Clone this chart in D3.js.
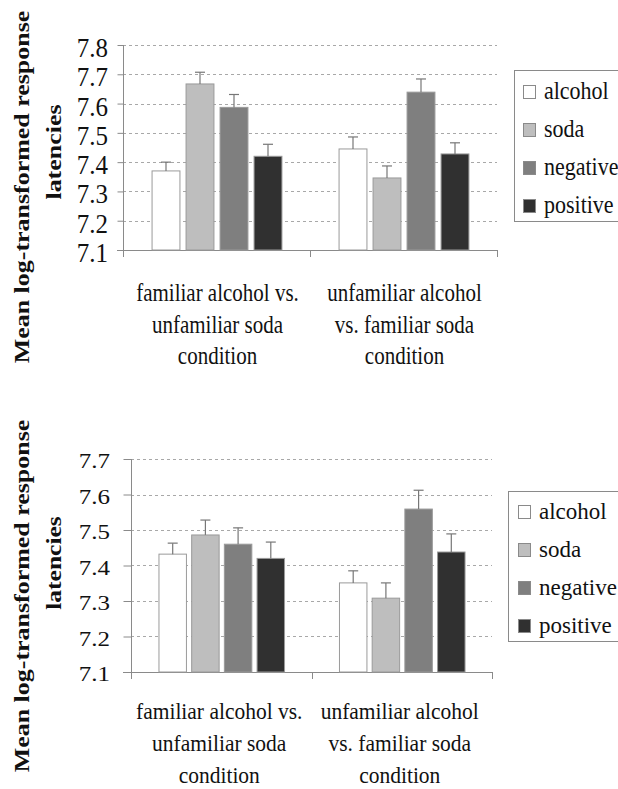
<!DOCTYPE html>
<html><head><meta charset="utf-8">
<script src="https://cdn.jsdelivr.net/npm/d3@7/dist/d3.min.js"></script>
<style>body{margin:0;background:#fff}svg{display:block}</style>
</head><body>
<svg id="c" width="618" height="789"></svg>
<script>
// ---- data ----
const categories = [
  ["familiar alcohol vs.", "unfamiliar soda", "condition"],
  ["unfamiliar alcohol", "vs. familiar soda", "condition"]
];
const seriesNames = ["alcohol", "soda", "negative", "positive"];
const seriesColors = ["#ffffff", "#bebebe", "#7f7f7f", "#303030"];

// top panel: means per series [cond1, cond2], and standard-error bar heights
const topAlcohol = [7.370, 7.445];
const topSoda = [7.667, 7.346];
const topNegative = [7.587, 7.639];
const topPositive = [7.420, 7.428];
const topErrAlcohol = [0.030, 0.041];
const topErrSoda = [0.040, 0.041];
const topErrNegative = [0.044, 0.045];
const topErrPositive = [0.041, 0.038];
const topTicks = [7.1, 7.2, 7.3, 7.4, 7.5, 7.6, 7.7, 7.8];

// bottom panel
const botAlcohol = [7.432, 7.351];
const botSoda = [7.486, 7.308];
const botNegative = [7.460, 7.559];
const botPositive = [7.420, 7.438];
const botErrAlcohol = [0.031, 0.034];
const botErrSoda = [0.042, 0.043];
const botErrNegative = [0.046, 0.053];
const botErrPositive = [0.046, 0.051];
const botTicks = [7.1, 7.2, 7.3, 7.4, 7.5, 7.6, 7.7];

const yTitle = ["Mean log-transformed response", "latencies"];

// ---- drawing ----
const svg = d3.select("#c");
const SERIF = "'Liberation Serif','Times New Roman',serif";

function txt(g, x, y, s, o) {
  const t = g.append("text")
    .attr("transform", `translate(${x},${y})${o.rot ? " rotate(" + o.rot + ")" : ""} scale(${o.sx || 1},${o.sy || 1})`)
    .attr("text-anchor", o.anchor || "start")
    .attr("font-family", SERIF)
    .attr("font-size", o.size)
    .attr("font-weight", o.weight || "normal")
    .attr("fill", "#111")
    .text(s);
  return t;
}

function drawPanel(cfg) {
  const g = svg.append("g");
  const means = cfg.means, errs = cfg.errs;
  const rows = [];
  categories.forEach((c, ci) => seriesNames.forEach((s, si) => {
    rows.push({ci, si, v: means[si][ci], e: errs[si][ci]});
  }));

  const y = d3.scaleLinear().domain([cfg.ticks[0], cfg.ticks[cfg.ticks.length - 1]]).range([cfg.y0, cfg.y1]);
  const x0 = d3.scaleBand().domain(d3.range(categories.length)).range([cfg.x0, cfg.x1]).paddingInner(0).paddingOuter(0);
  const x1 = d3.scaleBand().domain(d3.range(seriesNames.length)).range([0, x0.bandwidth()])
    .paddingInner(cfg.pin).paddingOuter(cfg.pout);

  // gridlines
  g.append("g").selectAll("line").data(cfg.ticks.slice(1)).join("line")
    .attr("x1", cfg.x0).attr("x2", cfg.x1)
    .attr("y1", d => Math.round(y(d)) + 0.5).attr("y2", d => Math.round(y(d)) + 0.5)
    .attr("stroke", "#a8a8a8").attr("stroke-width", 1).attr("stroke-dasharray", "3,3");

  // y axis
  const ya = g.append("g").attr("transform", `translate(${cfg.x0 + 0.5},0)`)
    .call(d3.axisLeft(y).tickValues(cfg.ticks).tickSize(cfg.tickLen).tickFormat(""));
  ya.selectAll("path,line").attr("stroke", "#8a8a8a");
  ya.select(".domain").attr("d", `M0,${cfg.y0}V${cfg.y1}`);

  // tick labels
  cfg.ticks.forEach(t => {
    txt(g, cfg.tlx, y(t) + cfg.tdy, d3.format(".1f")(t), {size: cfg.tsize, sy: cfg.tsy, anchor: "end"});
  });

  // x axis
  g.append("line").attr("x1", cfg.x0 - cfg.tickLen).attr("x2", cfg.x1)
    .attr("y1", cfg.y0 + 0.5).attr("y2", cfg.y0 + 0.5).attr("stroke", "#8a8a8a");
  const xt = [cfg.x0, ...d3.range(categories.length).map(i => x0(i) + x0.bandwidth())];
  g.append("g").selectAll("line").data(xt).join("line")
    .attr("x1", d => Math.round(d) + 0.5).attr("x2", d => Math.round(d) + 0.5)
    .attr("y1", cfg.y0).attr("y2", cfg.y0 + 7).attr("stroke", "#8a8a8a");

  // bars
  g.append("g").selectAll("rect").data(rows).join("rect")
    .attr("x", d => x0(d.ci) + x1(d.si) + 0.5)
    .attr("y", d => y(d.v))
    .attr("width", x1.bandwidth())
    .attr("height", d => cfg.y0 - y(d.v))
    .attr("fill", d => seriesColors[d.si])
    .attr("stroke", "#9a9a9a").attr("stroke-width", 1);

  // error bars (upper only)
  const eb = g.append("g").attr("stroke", "#777").attr("stroke-width", 1.2);
  rows.forEach(d => {
    const cx = x0(d.ci) + x1(d.si) + x1.bandwidth() / 2 + 0.5;
    eb.append("line").attr("x1", cx).attr("x2", cx).attr("y1", y(d.v)).attr("y2", y(d.v + d.e));
    eb.append("line").attr("x1", cx - 5).attr("x2", cx + 5).attr("y1", y(d.v + d.e)).attr("y2", y(d.v + d.e));
  });

  // category labels
  categories.forEach((lines, ci) => {
    const cx = x0(ci) + x0.bandwidth() / 2 + cfg.catdx;
    lines.forEach((l, li) => {
      txt(g, cx, cfg.catY + li * cfg.catStep, l, {size: cfg.csize, sy: cfg.csy, anchor: "middle"});
    });
  });

  // y title
  txt(g, cfg.t1x, cfg.t1y, yTitle[0], {size: 22, weight: "bold", rot: -90, sx: cfg.tsx1, anchor: "middle"});
  txt(g, cfg.t2x, cfg.t2y, yTitle[1], {size: 22, weight: "bold", rot: -90, sx: cfg.tsx2, anchor: "middle"});

  // legend
  const L = cfg.leg;
  g.append("rect").attr("x", L.x + 0.5).attr("y", L.y + 0.5).attr("width", 130).attr("height", L.h)
    .attr("fill", "#fff").attr("stroke", "#8a8a8a");
  seriesNames.forEach((s, si) => {
    const cy = L.r0 + si * L.step;
    g.append("rect").attr("x", L.sx + 0.5).attr("y", cy - 6).attr("width", 12).attr("height", 13)
      .attr("fill", seriesColors[si]).attr("stroke", "#8a8a8a");
    txt(g, L.tx, cy + L.tdy, s, {size: L.size, sy: L.sy});
  });
}

drawPanel({
  means: [topAlcohol, topSoda, topNegative, topPositive],
  errs: [topErrAlcohol, topErrSoda, topErrNegative, topErrPositive],
  ticks: topTicks, y0: 250, y1: 45, x0: 123, x1: 497, pin: 0.18, pout: 0.84, tickLen: 6,
  tlx: 108, tdy: 12, tsize: 25, tsy: 1.12,
  catY: 301, catStep: 31.5, csize: 21, csy: 1.18, catdx: 1,
  t1x: 29, t1y: 187, tsx1: 1.18, t2x: 61, t2y: 152, tsx2: 1.18,
  leg: {x: 514, y: 70, h: 151, r0: 91.5, step: 38, sx: 523, tx: 544, tdy: 7, size: 22, sy: 1.1}
});

drawPanel({
  means: [botAlcohol, botSoda, botNegative, botPositive],
  errs: [botErrAlcohol, botErrSoda, botErrNegative, botErrPositive],
  ticks: botTicks, y0: 672, y1: 459, x0: 131, x1: 492, pin: 0.16, pout: 0.84, tickLen: 8,
  tlx: 110, tdy: 9, tsize: 25, tsy: 0.88,
  catY: 719, catStep: 32, csize: 21.5, csy: 1.05, catdx: -2,
  t1x: 29, t1y: 596, tsx1: 1.18, t2x: 61, t2y: 563, tsx2: 1.16,
  leg: {x: 508, y: 491, h: 150, r0: 511.5, step: 38, sx: 518, tx: 539, tdy: 7.5, size: 23, sy: 1.0}
});
</script>
</body></html>
